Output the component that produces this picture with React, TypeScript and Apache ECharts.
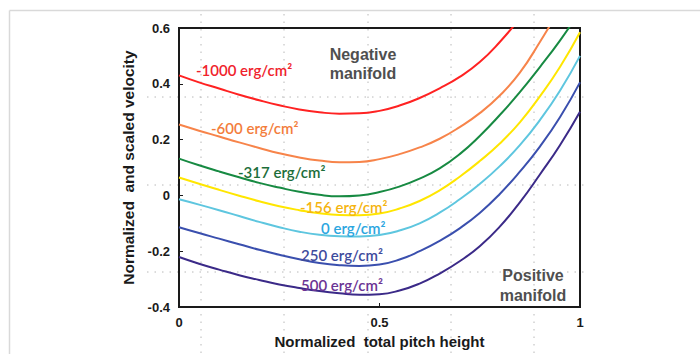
import React, { useEffect, useRef } from "react";
import * as echarts from "echarts";

const xs = [0, 0.05, 0.1, 0.15, 0.2, 0.25, 0.3, 0.35, 0.4, 0.45, 0.5, 0.55, 0.6, 0.65, 0.7, 0.75, 0.8, 0.85, 0.9, 0.95, 1.0];
const sNeg1000 = [0.43, 0.405, 0.383, 0.361, 0.341, 0.323, 0.308, 0.298, 0.293, 0.294, 0.303, 0.322, 0.349, 0.384, 0.425, 0.478, 0.55, 0.635, 0.73, 0.84, 0.96];
const sNeg600 = [0.254, 0.232, 0.211, 0.19, 0.17, 0.151, 0.136, 0.125, 0.119, 0.12, 0.13, 0.148, 0.172, 0.203, 0.245, 0.295, 0.358, 0.44, 0.55, 0.67, 0.8];
const sNeg317 = [0.132, 0.108, 0.086, 0.065, 0.045, 0.028, 0.013, 0.002, -0.003, 0.0, 0.012, 0.032, 0.06, 0.097, 0.148, 0.213, 0.288, 0.37, 0.46, 0.555, 0.66];
const sNeg156 = [0.064, 0.042, 0.02, -0.001, -0.021, -0.039, -0.053, -0.064, -0.07, -0.071, -0.065, -0.047, -0.02, 0.018, 0.067, 0.123, 0.186, 0.262, 0.355, 0.46, 0.585];
const sZero = [-0.014, -0.033, -0.053, -0.074, -0.095, -0.114, -0.13, -0.141, -0.146, -0.147, -0.142, -0.126, -0.1, -0.062, -0.014, 0.041, 0.105, 0.18, 0.27, 0.375, 0.5];
const s250 = [-0.114, -0.135, -0.155, -0.175, -0.195, -0.213, -0.229, -0.242, -0.25, -0.253, -0.248, -0.23, -0.2, -0.163, -0.118, -0.063, 0.005, 0.085, 0.175, 0.28, 0.405];
const s500 = [-0.221, -0.245, -0.266, -0.286, -0.303, -0.319, -0.332, -0.343, -0.351, -0.356, -0.354, -0.341, -0.316, -0.28, -0.236, -0.182, -0.112, -0.025, 0.075, 0.18, 0.3];

const seriesNames = ["-1000 erg/cm²", "-600 erg/cm²", "-317 erg/cm²", "-156 erg/cm²", "0 erg/cm²", "250 erg/cm²", "500 erg/cm²"];
const seriesData = [sNeg1000, sNeg600, sNeg317, sNeg156, sZero, s250, s500];
const lineColors = ["#ff2222", "#f7844a", "#178a42", "#ffe600", "#5ec6df", "#3a4fae", "#3b2a88"];
const labelColors = ["#f0222c", "#f37d3c", "#1c6e3a", "#f5b40f", "#2ba6df", "#3e4b9d", "#6b3494"];
const labelPos = [
  [196, 70],
  [211, 128],
  [238, 172],
  [300, 207],
  [321, 228],
  [301, 255],
  [301, 285],
];

const xTitle = "Normalized  total pitch height";
const yTitle = "Normalized  and scaled velocity";

export default function App() {
  const ref = useRef<HTMLDivElement>(null);
  useEffect(() => {
    if (!ref.current) return;
    const chart = echarts.init(ref.current, null, { renderer: "svg" });
    const graphics: any[] = [];
    graphics.push({ type: "line", shape: { x1: 9.5, y1: 10.5, x2: 700, y2: 10.5 }, style: { stroke: "#d9d9d9", lineWidth: 1.5 }, z: -10 });
    graphics.push({ type: "line", shape: { x1: 9.5, y1: 10.5, x2: 9.5, y2: 354 }, style: { stroke: "#d9d9d9", lineWidth: 1.5 }, z: -10 });
    [201, 284, 368, 451, 534].forEach((x) => {
      graphics.push({ type: "line", shape: { x1: x, y1: 14, x2: x, y2: 354 }, style: { stroke: "#b8b8b8", lineWidth: 1, lineDash: [1.5, 6] }, z: -5 });
    });
    [97, 185, 272].forEach((y) => {
      graphics.push({ type: "line", shape: { x1: 147, y1: y, x2: 585, y2: y }, style: { stroke: "#b8b8b8", lineWidth: 1, lineDash: [1.5, 6] }, z: -5 });
    });
    seriesNames.forEach((n, i) => {
      graphics.push({
        type: "text",
        x: labelPos[i][0],
        y: labelPos[i][1],
        z: 50,
        style: { text: n, fill: labelColors[i], font: "600 15px Lato", verticalAlign: "middle", align: "left" },
      });
    });
    graphics.push({
      type: "text", x: 363, y: 64, z: 50,
      style: { text: "Negative\nmanifold", fill: "#4f4f4f", font: "bold 16px 'Liberation Sans'", align: "center", verticalAlign: "middle", lineHeight: 19 },
    });
    graphics.push({
      type: "text", x: 533, y: 285, z: 50,
      style: { text: "Positive\nmanifold", fill: "#4f4f4f", font: "bold 16px 'Liberation Sans'", align: "center", verticalAlign: "middle", lineHeight: 20 },
    });

    chart.setOption({
      animation: false,
      backgroundColor: "#ffffff",
      grid: { left: 179, top: 28, right: 120, bottom: 46, show: true, borderColor: "#1a1a1a", borderWidth: 2, backgroundColor: "transparent" },
      xAxis: {
        type: "value", min: 0, max: 1, interval: 0.5,
        name: xTitle, nameLocation: "middle", nameGap: 27,
        nameTextStyle: { fontFamily: "Liberation Sans", fontWeight: "bold", fontSize: 15, color: "#1a1a1a" },
        axisLine: { show: true, onZero: false, lineStyle: { color: "#1a1a1a", width: 2 } },
        axisTick: { show: true, inside: true, length: 4, lineStyle: { color: "#1a1a1a" } },
        splitLine: { show: false },
        axisLabel: { fontFamily: "Liberation Sans", fontWeight: "bold", fontSize: 13, color: "#1a1a1a", margin: 9, formatter: (v: number) => String(v) },
      },
      yAxis: {
        type: "value", min: -0.4, max: 0.6, interval: 0.2,
        name: yTitle, nameLocation: "middle", nameGap: 36,
        nameTextStyle: { fontFamily: "Liberation Sans", fontWeight: "bold", fontSize: 15.5, color: "#1a1a1a" },
        axisLine: { show: true, onZero: false, lineStyle: { color: "#1a1a1a", width: 2 } },
        axisTick: { show: true, inside: true, length: 4, lineStyle: { color: "#1a1a1a" } },
        splitLine: { show: false },
        axisLabel: { fontFamily: "Liberation Sans", fontWeight: "bold", fontSize: 13, color: "#1a1a1a", margin: 9, formatter: (v: number) => (Math.abs(v) < 1e-9 ? "0" : String(Math.round(v * 10) / 10)) },
      },
      series: seriesData.map((d, i) => ({
        type: "line",
        name: seriesNames[i],
        data: xs.map((x, j) => [x, d[j]]),
        smooth: 0.5,
        showSymbol: false,
        clip: true,
        lineStyle: { color: lineColors[i], width: 2 },
        z: 3,
      })),
      graphic: graphics,
    });
    return () => chart.dispose();
  }, []);
  return <div ref={ref} style={{ position: "absolute", left: 0, top: 0, width: 700, height: 354 }} />;
}
